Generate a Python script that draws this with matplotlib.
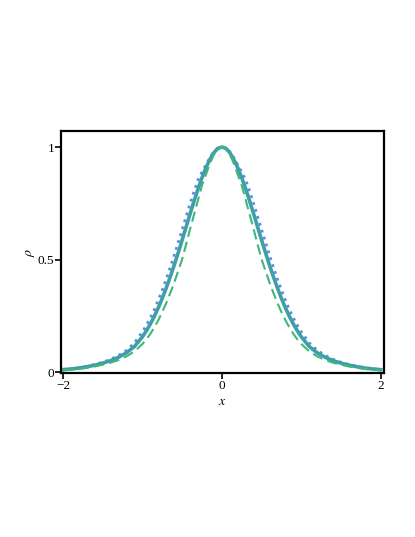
import numpy as np
import matplotlib
matplotlib.use('Agg')
import matplotlib.pyplot as plt

plt.rcParams['font.family'] = ['Liberation Serif', 'DejaVu Serif']
plt.rcParams['mathtext.fontset'] = 'stix'

# half profiles (the curves are symmetric about x = 0)
x_half = [0.0, 0.05, 0.1, 0.15, 0.2, 0.25, 0.3, 0.35, 0.4, 0.45, 0.5,
          0.55, 0.6, 0.65, 0.7, 0.75, 0.8, 0.85, 0.9, 0.95, 1.0,
          1.1, 1.2, 1.3, 1.4, 1.5, 1.6, 1.7, 1.8, 1.9, 2.0]
rho_solid = [1.0, 0.994, 0.975, 0.945, 0.908, 0.864, 0.814, 0.760, 0.703, 0.645, 0.587,
             0.530, 0.475, 0.423, 0.374, 0.328, 0.286, 0.248, 0.214, 0.184, 0.157,
             0.114, 0.086, 0.066, 0.051, 0.040, 0.031, 0.024, 0.018, 0.014, 0.011]
rho_dotted = [1.0, 0.995, 0.979, 0.953, 0.921, 0.889, 0.854, 0.803, 0.749, 0.691, 0.633,
              0.576, 0.519, 0.465, 0.413, 0.365, 0.320, 0.278, 0.241, 0.208, 0.179,
              0.130, 0.097, 0.074, 0.057, 0.044, 0.034, 0.026, 0.020, 0.015, 0.012]
rho_dashed = [1.0, 0.991, 0.967, 0.927, 0.878, 0.830, 0.765, 0.700, 0.635, 0.567, 0.502,
              0.449, 0.398, 0.351, 0.307, 0.267, 0.231, 0.199, 0.170, 0.146, 0.125,
              0.092, 0.070, 0.054, 0.042, 0.033, 0.025, 0.019, 0.014, 0.011, 0.008]

xticks = [-2, 0, 2]
xticklabels = ['\u22122', '0', '2']
yticks = [0, 0.5, 1]
yticklabels = ['0', '0.5', '1']


def mirror(v):
    v = np.asarray(v, dtype=float)
    return np.concatenate([v[:0:-1], v])


x = np.concatenate([-np.asarray(x_half[:0:-1]), np.asarray(x_half)])

fig = plt.figure(figsize=(4.15, 5.37), dpi=100)
ax = fig.add_axes([0.148, 0.3045, 0.777, 0.4515])

ax.plot(x, mirror(rho_dotted), color='#5a8ee6', lw=2.0, ls=(0, (1, 1.6)))
ax.plot(x, mirror(rho_solid), color='#3f9ea6', lw=2.6)
ax.plot(x, mirror(rho_dashed), color='#3cb878', lw=1.5, ls=(0, (5, 2.5)))

ax.set_xlim(-2.02, 2.04)
ax.set_ylim(-0.006, 1.071)
ax.set_xticks(xticks)
ax.set_xticklabels(xticklabels)
ax.set_yticks(yticks)
ax.set_yticklabels(yticklabels)
ax.tick_params(direction='out', length=4, width=1.2, labelsize=9.5, pad=1)
for s in ax.spines.values():
    s.set_linewidth(1.6)

ax.set_xlabel('$x$', fontsize=10, labelpad=2)
ax.set_ylabel('$\\rho$', fontsize=10, labelpad=1)

fig.savefig('out.png', dpi=100)
